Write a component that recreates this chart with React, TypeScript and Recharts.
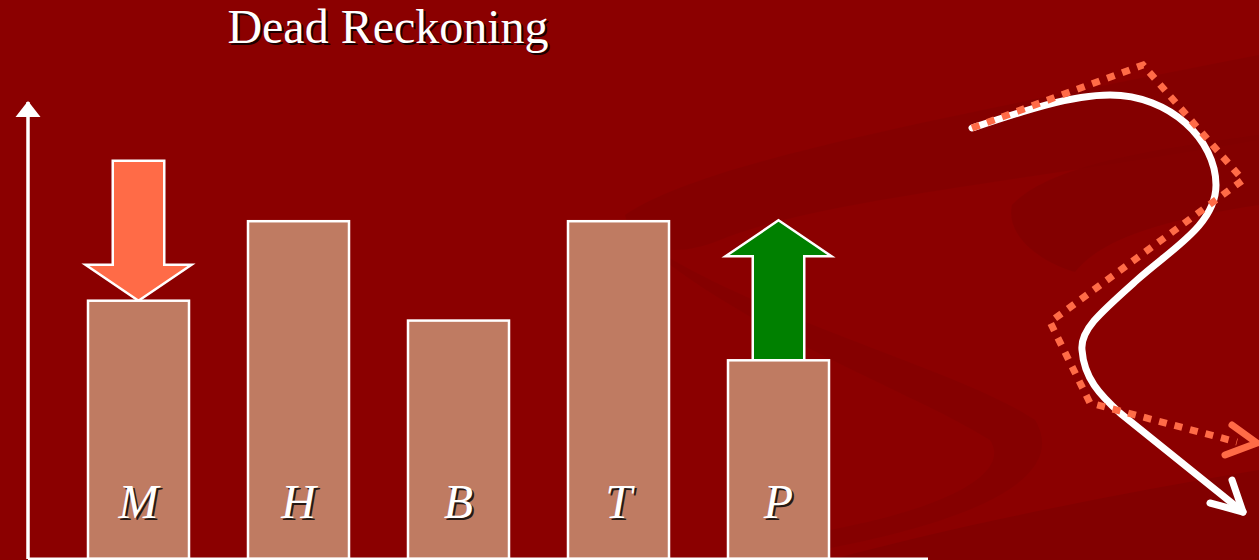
import React from "react";
import { Bar, BarChart, LabelList, XAxis, YAxis } from "recharts";

// quantities along the category axis
const letters = ["M", "H", "B", "T", "P"];
const levels = [6.5, 8.5, 6, 8.5, 5];
const shifts = ["down", "none", "none", "none", "up"];
const yTop = 11.5;

const data = letters.map((name, i) => ({ name, level: levels[i], shift: shifts[i] }));

const BG = "#8b0000";
const SWIRL = "#7f0000";
const BAR = "#bf7b62";
const ORANGE = "#ff6b47";
const GREEN = "#008000";
const SERIF = '"Liberation Serif", "DejaVu Serif", serif';

function ShiftBar(props: any) {
  const { x, y, width, height, payload } = props;
  const cx = x + width / 2;
  const headW = width * 0.525;
  const shaftW = width * 0.255;
  const headH = 36;
  const total = 140;
  let arrow = null;
  if (payload.shift === "down") {
    const top = y - total;
    const base = y - headH;
    arrow = (
      <path
        d={`M${cx - shaftW},${top} H${cx + shaftW} V${base} H${cx + headW} L${cx},${y} L${cx - headW},${base} H${cx - shaftW} Z`}
        fill={ORANGE}
        stroke="#fff"
        strokeWidth={2.5}
      />
    );
  } else if (payload.shift === "up") {
    const tip = y - total;
    const base = tip + headH;
    arrow = (
      <path
        d={`M${cx},${tip} L${cx + headW},${base} H${cx + shaftW} V${y} H${cx - shaftW} V${base} H${cx - headW} Z`}
        fill={GREEN}
        stroke="#fff"
        strokeWidth={2.5}
      />
    );
  }
  return (
    <g>
      {arrow}
      <rect x={x} y={y} width={width} height={height} fill={BAR} stroke="#fff" strokeWidth={2.5} />
    </g>
  );
}

function LetterLabel(props: any) {
  const { x, y, width, height, value } = props;
  const cx = x + width / 2;
  const by = y + height - 41;
  return (
    <g fontFamily={SERIF} fontStyle="italic" fontSize={48} textAnchor="middle">
      <text x={cx + 2} y={by + 2} fill="#000" opacity={0.8}>{value}</text>
      <text x={cx} y={by} fill="#fff">{value}</text>
    </g>
  );
}

function AxisArrow(props: any) {
  const { x, y } = props;
  return <path d={`M${x},${y - 1} L${x + 12.5},${y + 15} L${x - 12.5},${y + 15} Z`} fill="#fff" />;
}

function Backdrop() {
  return (
    <svg width={1259} height={560} style={{ position: "absolute", left: 0, top: 0 }}>
      <rect width={1259} height={560} fill={BG} />
      <path d="M625,215 C700,165 900,125 1259,55 L1259,140 C1000,185 820,200 720,240 C665,262 632,245 625,215 Z" fill={SWIRL} opacity={0.55} />
      <path d="M1012,205 C1050,165 1150,150 1259,135 L1259,205 C1160,220 1100,240 1075,272 C1040,262 1005,235 1012,205 Z" fill={SWIRL} opacity={0.6} />
      <path d="M640,240 C760,320 960,370 1035,420 C1065,470 1000,515 830,548 L830,530 C960,505 1010,470 990,440 C920,395 740,330 640,240 Z" fill={SWIRL} opacity={0.45} />
      <path d="M830,560 C960,525 1110,495 1259,470 L1259,560 Z" fill={SWIRL} opacity={0.8} />
    </svg>
  );
}

function Overlay() {
  return (
    <svg width={1259} height={560} style={{ position: "absolute", left: 0, top: 0, pointerEvents: "none" }}>
      <g fontFamily={SERIF} fontSize={48} textAnchor="middle">
        <text x={390} y={45} fill="#000" opacity={0.8}>Dead Reckoning</text>
        <text x={388} y={43} fill="#fff">Dead Reckoning</text>
      </g>
      <path
        d="M972,128 C1020,112 1070,95 1110,95 C1170,95 1216,140 1216,185 C1216,225 1170,250 1137,280 C1100,313 1080,330 1082,350 C1084,378 1100,395 1120,413 L1243,512"
        fill="none"
        stroke="#fff"
        strokeWidth={7}
        strokeLinecap="round"
      />
      <polyline points="1210,503 1243,512 1232,480" fill="none" stroke="#fff" strokeWidth={7} strokeLinecap="round" strokeLinejoin="round" />
      <polyline
        points="972,128 1143,65 1243,180 1050,322 1090,403 1237,442"
        fill="none"
        stroke={ORANGE}
        strokeWidth={7}
        strokeDasharray="8 8"
      />
      <polyline points="1232,425 1257,443 1225,455" fill="none" stroke={ORANGE} strokeWidth={7} strokeLinecap="round" strokeLinejoin="round" />
    </svg>
  );
}

export default function App() {
  return (
    <div style={{ position: "absolute", left: 0, top: 0, width: 1259, height: 560, overflow: "hidden" }}>
      <Backdrop />
      <div style={{ position: "absolute", left: 0, top: 0 }}>
        <BarChart width={1259} height={560} data={data} margin={{ top: 102, right: 331, bottom: 0, left: 0 }}>
          <XAxis
            dataKey="name"
            height={1}
            tick={false}
            tickLine={false}
            axisLine={{ stroke: "#fff", strokeWidth: 3 }}
            padding={{ left: 30, right: 70 }}
          />
          <YAxis
            width={28}
            domain={[0, yTop]}
            ticks={[yTop]}
            tick={<AxisArrow />}
            tickSize={0}
            tickMargin={0}
            tickLine={false}
            axisLine={{ stroke: "#fff", strokeWidth: 3.5 }}
          />
          <Bar dataKey="level" barSize={101} shape={<ShiftBar />} isAnimationActive={false}>
            <LabelList dataKey="name" content={<LetterLabel />} />
          </Bar>
        </BarChart>
      </div>
      <Overlay />
    </div>
  );
}
